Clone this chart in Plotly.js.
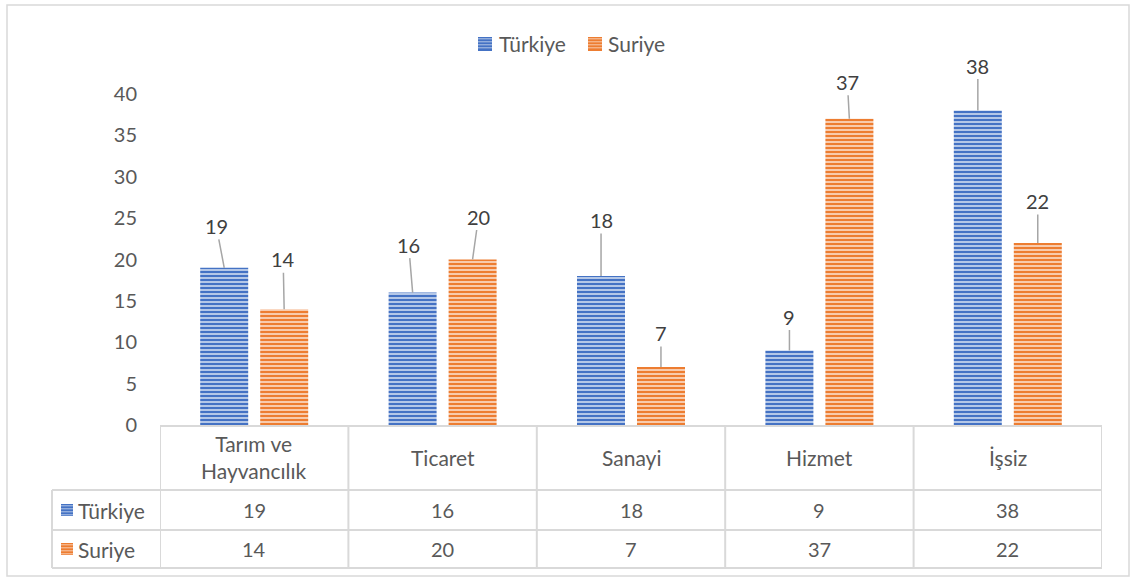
<!DOCTYPE html>
<html>
<head>
<meta charset="utf-8">
<script src="https://cdn.plot.ly/plotly-3.0.1.min.js"></script>
<style>
  html, body { margin: 0; padding: 0; background: #ffffff; }
  #chart { width: 1132px; height: 578px; }
</style>
</head>
<body>
<div id="chart"></div>
<script>
// ---- data ----
const categories = ["Tarım ve Hayvancılık", "Ticaret", "Sanayi", "Hizmet", "İşsiz"];
const headerLabels = ["Tarım ve<br>Hayvancılık", "Ticaret", "Sanayi", "Hizmet", "İşsiz"];
const seriesNames = ["Türkiye", "Suriye"];
const turkiye = [19, 16, 18, 9, 38];
const suriye = [14, 20, 7, 37, 22];
const yTickVals = [0, 5, 10, 15, 20, 25, 30, 35, 40];

// ---- styles (label offsets in px, not data) ----
const labelOffT = [[-8, -42], [-4, -48], [0, -56], [0, -34], [0, -45]];
const labelOffS = [[-1, -50], [6, -43], [0, -34], [-2, -37], [0, -42]];
const blue = '#4472C4', blueLight = '#B4C7E7';
const orange = '#ED7D31', orangeLight = '#F8CBAD';
const gridGray = '#D9D9D9';
const textGray = '#595959';
const FONT = 'Lato, "Open Sans", sans-serif';
const WORD_SIZE = 21;

// plot area geometry in px
const W = 1132, H = 578;
const L = 160, R = 1102, T = 94, B = 425;
const px = x => (x - L) / (R - L);
const py = y => (B - y) / (B - T);

const traces = [
  {
    type: 'bar', name: seriesNames[0], x: categories, y: turkiye,
    marker: { color: blue, line: { width: 0 },
      pattern: { shape: '-', fgcolor: blue, bgcolor: blueLight, size: 4, solidity: 0.5, fillmode: 'replace' } },
    hoverinfo: 'x+y+name'
  },
  {
    type: 'bar', name: seriesNames[1], x: categories, y: suriye,
    marker: { color: orange, line: { width: 0 },
      pattern: { shape: '-', fgcolor: orange, bgcolor: orangeLight, size: 4, solidity: 0.5, fillmode: 'replace' } },
    hoverinfo: 'x+y+name'
  }
];

const slotHalf = 0.159;
const annotations = [];
const shapes = [];

// data labels with leader lines
function addLabels(vals, offs, shift) {
  vals.forEach((v, i) => {
    annotations.push({
      xref: 'x', yref: 'y', x: i + shift, y: v,
      text: String(v), showarrow: true, arrowhead: 0, arrowwidth: 1.5,
      arrowcolor: '#A6A6A6', standoff: 0, ax: offs[i][0], ay: offs[i][1],
      font: { family: FONT, size: 20, color: '#404040' }
    });
  });
}
addLabels(turkiye, labelOffT, -slotHalf);
addLabels(suriye, labelOffS, slotHalf);

// striped swatch helper (pixel coords)
function swatch(x0, x1, y0, y1, fg, bg) {
  shapes.push({ type: 'rect', xref: 'paper', yref: 'paper', x0: px(x0), x1: px(x1),
    y0: py(y1), y1: py(y0), fillcolor: fg, line: { width: 0 } });
  const n = Math.floor((y1 - y0) / 3);
  for (let k = 1; k <= n; k++) {
    const yy = y0 + k * 3 - 1.2;
    if (yy >= y1 - 1) break;
    shapes.push({ type: 'line', xref: 'paper', yref: 'paper', x0: px(x0), x1: px(x1),
      y0: py(yy), y1: py(yy), line: { color: bg, width: 1 } });
  }
}

// custom legend on top
const legendItems = [
  { name: seriesNames[0], fg: blue, bg: blueLight, sx: 478, tx: 497 },
  { name: seriesNames[1], fg: orange, bg: orangeLight, sx: 588, tx: 606 }
];
legendItems.forEach(it => {
  swatch(it.sx, it.sx + 14, 37, 51, it.fg, it.bg);
  annotations.push({ xref: 'paper', yref: 'paper', x: px(it.tx), y: py(44), text: it.name,
    showarrow: false, xanchor: 'left', yanchor: 'middle',
    font: { family: FONT, size: WORD_SIZE, color: textGray } });
});

// data table
const rowTop = 425, row1 = 490, row2 = 530, rowBot = 568, leftCol = 52;
const lineStyle = { color: gridGray, width: 2 };
for (let i = 0; i <= categories.length; i++) {
  shapes.push({ type: 'line', xref: 'x', yref: 'paper', x0: i - 0.5, x1: i - 0.5,
    y0: py(rowTop), y1: py(rowBot), line: lineStyle, layer: 'above' });
}
[row1, row2, rowBot].forEach(y => {
  shapes.push({ type: 'line', xref: 'paper', yref: 'paper', x0: px(leftCol), x1: 1,
    y0: py(y), y1: py(y), line: lineStyle });
});
shapes.push({ type: 'line', xref: 'paper', yref: 'paper', x0: px(leftCol), x1: px(leftCol),
  y0: py(row1), y1: py(rowBot), line: lineStyle });

headerLabels.forEach((lab, i) => {
  annotations.push({ xref: 'x', yref: 'paper', x: i, y: py((rowTop + row1) / 2),
    text: lab, showarrow: false, yanchor: 'middle',
    font: { family: FONT, size: WORD_SIZE, color: textGray } });
});
[turkiye, suriye].forEach((vals, r) => {
  const yc = r === 0 ? (row1 + row2) / 2 : (row2 + rowBot) / 2;
  vals.forEach((v, i) => {
    annotations.push({ xref: 'x', yref: 'paper', x: i, y: py(yc), text: String(v),
      showarrow: false, yanchor: 'middle', font: { family: FONT, size: 20, color: textGray } });
  });
  annotations.push({ xref: 'paper', yref: 'paper', x: px(76), y: py(yc), text: seriesNames[r],
    showarrow: false, xanchor: 'left', yanchor: 'middle',
    font: { family: FONT, size: WORD_SIZE, color: textGray } });
  const fg = r === 0 ? blue : orange, bg = r === 0 ? blueLight : orangeLight;
  swatch(61, 73, yc - 6, yc + 6, fg, bg);
});

// outer chart border
shapes.push({ type: 'rect', xref: 'paper', yref: 'paper', x0: px(7), x1: px(1129),
  y0: py(576), y1: py(5), line: { color: gridGray, width: 1.5 }, fillcolor: 'rgba(0,0,0,0)' });

const layout = {
  width: W, height: H,
  margin: { l: L, r: W - R, t: T, b: H - B, pad: 0 },
  paper_bgcolor: '#ffffff', plot_bgcolor: '#ffffff',
  font: { family: FONT, size: 20, color: textGray },
  barmode: 'group', bargap: 0.363, bargroupgap: 0.2,
  showlegend: false,
  xaxis: { type: 'category', range: [-0.5, 4.5], showticklabels: false, ticks: '',
    showgrid: false, zeroline: false, showline: true, linecolor: gridGray, linewidth: 2, fixedrange: true },
  yaxis: { range: [0, 40], tickvals: yTickVals, ticks: '', showgrid: false, zeroline: false,
    showline: false, ticklabelstandoff: 22, tickfont: { family: FONT, size: 20, color: textGray }, fixedrange: true },
  annotations: annotations,
  shapes: shapes
};

Plotly.newPlot('chart', traces, layout, { displayModeBar: false });
</script>
</body>
</html>
